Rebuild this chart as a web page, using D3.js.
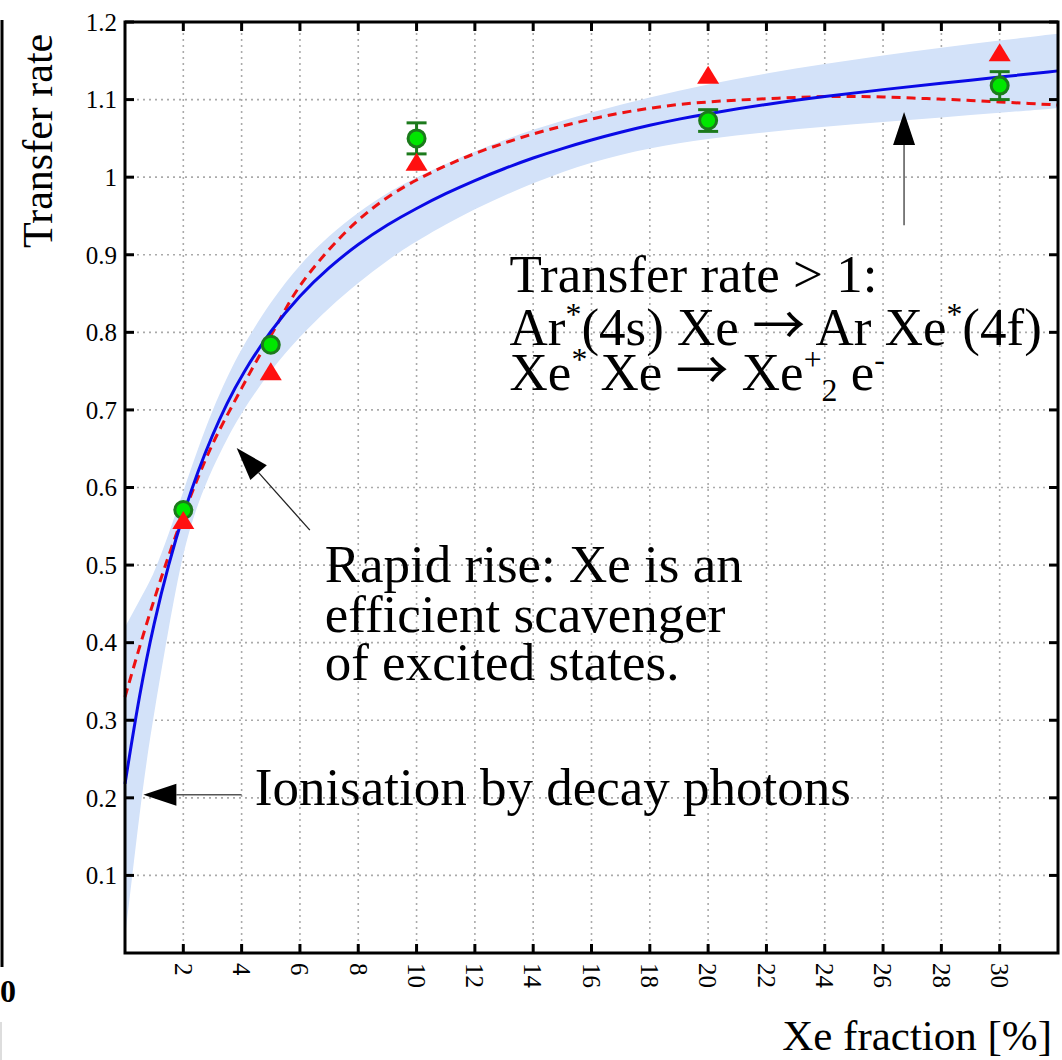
<!DOCTYPE html>
<html>
<head>
<meta charset="utf-8">
<script src="https://cdn.jsdelivr.net/npm/d3@7"></script>
<style>
  body { margin: 0; background: #fff; }
  svg { display: block; font-family: "Liberation Serif", "Times New Roman", serif; }
</style>
</head>
<body>
<script>
// Measured points (Xe fraction in %)
const xeFraction = [2, 5, 10, 20, 30];
const rateMeasured = [0.571, 0.784, 1.050, 1.073, 1.118];
const rateError = [0, 0, 0.020, 0.014, 0.018];
const rateTriangle = [0.558, 0.750, 1.020, 1.132, 1.161];

// Fit curve (solid blue)
const fitX = [0, 0.5, 1, 1.5, 2, 2.5, 3, 3.5, 4, 5, 6, 7, 8, 9, 10, 11, 12, 13, 14, 15, 16, 17, 18, 19, 20, 22, 24, 26, 28, 30, 32];
const fitY = [0.218, 0.335, 0.427, 0.502, 0.566, 0.621, 0.668, 0.709, 0.745, 0.803, 0.848, 0.884, 0.914, 0.939, 0.960, 0.979, 0.996, 1.011, 1.025, 1.037, 1.048, 1.058, 1.067, 1.075, 1.082, 1.094, 1.104, 1.113, 1.121, 1.129, 1.137];

// Model curve (red dashed)
const modelX = [0, 0.5, 1, 1.5, 2, 2.5, 3, 3.5, 4, 4.5, 5, 5.5, 6, 7, 8, 9, 10, 11, 12, 13, 14, 15, 16, 17, 18, 19, 20, 21, 22, 23, 24, 25, 26, 27, 28, 29, 30, 31, 32];
const modelY = [0.33, 0.395, 0.456, 0.513, 0.565, 0.613, 0.657, 0.693, 0.728, 0.763, 0.795, 0.83, 0.862, 0.908, 0.946, 0.975, 0.997, 1.015, 1.031, 1.044, 1.056, 1.066, 1.075, 1.083, 1.089, 1.094, 1.097, 1.0995, 1.101, 1.103, 1.104, 1.104, 1.1035, 1.102, 1.1005, 1.099, 1.097, 1.095, 1.093];

// Uncertainty band of the fit
const bandX = [0, 0.25, 0.5, 0.75, 1, 1.5, 2, 2.5, 3, 3.5, 4, 5, 6, 7, 8, 9, 10, 12, 14, 16, 18, 20, 22, 24, 26, 28, 30, 32];
const bandLo = [0.02, 0.10, 0.18, 0.25, 0.31, 0.42, 0.52, 0.58, 0.625, 0.663, 0.697, 0.752, 0.795, 0.832, 0.864, 0.893, 0.918, 0.96, 0.993, 1.02, 1.038, 1.05, 1.058, 1.065, 1.071, 1.077, 1.083, 1.089];
const bandHi = [0.42, 0.437, 0.455, 0.472, 0.49, 0.54, 0.595, 0.65, 0.70, 0.742, 0.78, 0.84, 0.888, 0.925, 0.955, 0.98, 1.0, 1.034, 1.062, 1.084, 1.103, 1.12, 1.134, 1.146, 1.157, 1.167, 1.176, 1.185];

// Axis ticks
const xTicks = [2, 4, 6, 8, 10, 12, 14, 16, 18, 20, 22, 24, 26, 28, 30];
const yTicks = [0.1, 0.2, 0.3, 0.4, 0.5, 0.6, 0.7, 0.8, 0.9, 1, 1.1, 1.2];

const width = 1062, height = 1060;
const margin = { top: 22, right: 4, bottom: 107, left: 125 };

const svg = d3.select("body").append("svg")
    .attr("width", width)
    .attr("height", height);

const x = d3.scaleLinear().domain([0, 32]).range([margin.left, width - margin.right]);
const y = d3.scaleLinear().domain([0, 1.2]).range([height - margin.bottom, margin.top]);

// Bits of the neighbouring panel that got cropped in
svg.append("line")
    .attr("x1", 2).attr("x2", 2).attr("y1", 20).attr("y2", 967)
    .attr("stroke", "#000").attr("stroke-width", 3);
svg.append("text")
    .attr("x", 0).attr("y", 1002)
    .attr("font-size", 32).attr("font-weight", 700)
    .text("0");
svg.append("line")
    .attr("x1", 1).attr("x2", 1).attr("y1", 1022).attr("y2", 1060)
    .attr("stroke", "#ddd").attr("stroke-width", 2);

// Dotted grid
const grid = svg.append("g")
    .attr("stroke", "#aaa")
    .attr("stroke-width", 1.6)
    .attr("stroke-dasharray", "2,4");

grid.selectAll(".vg")
    .data(xTicks)
    .enter().append("line")
    .attr("x1", d => x(d)).attr("x2", d => x(d))
    .attr("y1", y(0)).attr("y2", y(1.2));

grid.selectAll(".hg")
    .data(yTicks.filter(d => d < 1.2))
    .enter().append("line")
    .attr("x1", x(0)).attr("x2", x(32))
    .attr("y1", d => y(d)).attr("y2", d => y(d));

// Band
const band = bandX.map((v, i) => ({ x: v, lo: bandLo[i], hi: bandHi[i] }));
svg.append("path")
    .datum(band)
    .attr("fill", "#d3e2f9")
    .attr("d", d3.area()
        .curve(d3.curveBasis)
        .x(d => x(d.x))
        .y0(d => y(d.lo))
        .y1(d => y(d.hi)));

// Model curve (red dashed)
svg.append("path")
    .datum(modelX.map((v, i) => [v, modelY[i]]))
    .attr("fill", "none")
    .attr("stroke", "#ee1111")
    .attr("stroke-width", 3)
    .attr("stroke-dasharray", "9,6")
    .attr("d", d3.line().curve(d3.curveBasis).x(d => x(d[0])).y(d => y(d[1])));

// Fit curve (blue)
svg.append("path")
    .datum(fitX.map((v, i) => [v, fitY[i]]))
    .attr("fill", "none")
    .attr("stroke", "#0a0ae6")
    .attr("stroke-width", 3)
    .attr("d", d3.line().curve(d3.curveBasis).x(d => x(d[0])).y(d => y(d[1])));

// Measured points with error bars
const pts = xeFraction.map((v, i) => ({ x: v, y: rateMeasured[i], e: rateError[i], t: rateTriangle[i] }));
const withErr = pts.filter(d => d.e > 0);

const eb = svg.append("g")
    .attr("stroke", "#1c7a1c")
    .attr("stroke-width", 3);

eb.selectAll(".bar").data(withErr).enter().append("line")
    .attr("x1", d => x(d.x)).attr("x2", d => x(d.x))
    .attr("y1", d => y(d.y - d.e)).attr("y2", d => y(d.y + d.e));
eb.selectAll(".capTop").data(withErr).enter().append("line")
    .attr("x1", d => x(d.x) - 10).attr("x2", d => x(d.x) + 10)
    .attr("y1", d => y(d.y + d.e)).attr("y2", d => y(d.y + d.e));
eb.selectAll(".capBot").data(withErr).enter().append("line")
    .attr("x1", d => x(d.x) - 10).attr("x2", d => x(d.x) + 10)
    .attr("y1", d => y(d.y - d.e)).attr("y2", d => y(d.y - d.e));

svg.selectAll(".dot").data(pts).enter().append("circle")
    .attr("cx", d => x(d.x))
    .attr("cy", d => y(d.y))
    .attr("r", 8.5)
    .attr("fill", "#00e600")
    .attr("stroke", "#1c7a1c")
    .attr("stroke-width", 3);

// Triangles
svg.selectAll(".tri").data(pts).enter().append("path")
    .attr("transform", d => `translate(${x(d.x)},${y(d.t)})`)
    .attr("d", "M0,-9L11,9L-11,9Z")
    .attr("fill", "#ff1010");

// Frame, ticks
const frame = svg.append("g");
frame.append("rect")
    .attr("x", x(0)).attr("y", y(1.2))
    .attr("width", x(32) - x(0)).attr("height", y(0) - y(1.2))
    .attr("fill", "none").attr("stroke", "#000").attr("stroke-width", 3);

const tk = frame.append("g").attr("stroke", "#000").attr("stroke-width", 3);
tk.selectAll(".tb").data(xTicks).enter().append("line")
    .attr("x1", d => x(d)).attr("x2", d => x(d))
    .attr("y1", y(0)).attr("y2", y(0) - 9);
tk.selectAll(".tt").data(xTicks).enter().append("line")
    .attr("x1", d => x(d)).attr("x2", d => x(d))
    .attr("y1", y(1.2)).attr("y2", y(1.2) + 9);
tk.selectAll(".tl").data(yTicks).enter().append("line")
    .attr("x1", x(0)).attr("x2", x(0) + 9)
    .attr("y1", d => y(d)).attr("y2", d => y(d));
tk.selectAll(".tr").data(yTicks).enter().append("line")
    .attr("x1", x(32)).attr("x2", x(32) - 9)
    .attr("y1", d => y(d)).attr("y2", d => y(d));

// Tick labels
svg.selectAll(".yl").data(yTicks).enter().append("text")
    .attr("x", x(0) - 8)
    .attr("y", d => y(d))
    .attr("dy", "0.35em")
    .attr("text-anchor", "end")
    .attr("font-size", 25)
    .text(d => d3.format("~g")(d));

svg.selectAll(".xl").data(xTicks).enter().append("text")
    .attr("transform", d => `translate(${x(d)},${y(0) + 10}) rotate(90)`)
    .attr("dy", "0.35em")
    .attr("font-size", 25)
    .text(d => d);

// Axis titles
svg.append("text")
    .attr("x", 1052).attr("y", 1050)
    .attr("text-anchor", "end")
    .attr("font-size", 43)
    .text("Xe fraction [%]");

svg.append("text")
    .attr("transform", "translate(52,248) rotate(-90)")
    .attr("font-size", 42)
    .text("Transfer rate");

// Annotations: one text per line, super/subscripts as tspans
function richText(px, py, parts, size) {
    const t = svg.append("text")
        .attr("x", px).attr("y", py)
        .attr("font-size", size);
    let shift = 0;
    parts.forEach(p => {
        const target = p.s === "sup" ? -0.38 * size : p.s === "sub" ? 0.22 * size : 0;
        const ts = t.append("tspan")
            .attr("dy", target - shift)
            .attr("font-size", p.s ? size * 0.6 : size)
            .text(p.t);
        if (p.f) ts.attr("font-family", p.f);
        shift = target;
    });
    return t;
}

const fs = 53;
const arrowGlyph = { t: "\u2192", f: "Noto Sans CJK JP" };
richText(x(13.19), y(0.852), [{ t: "Transfer rate > 1:" }], fs);
richText(x(13.19), y(0.784), [
    { t: "Ar" }, { t: "*", s: "sup" }, { t: "(4s) Xe " }, arrowGlyph, { t: " Ar Xe" }, { t: "*", s: "sup" }, { t: "(4f)" }
], fs);
richText(x(13.19), y(0.726), [
    { t: "Xe" }, { t: "*", s: "sup" }, { t: " Xe " }, arrowGlyph, { t: " Xe" }, { t: "+", s: "sup" }, { t: "2", s: "sub" }, { t: " e" }, { t: "-", s: "sup" }
], fs);

richText(x(6.85), y(0.478), [{ t: "Rapid rise: Xe is an" }], fs);
richText(x(6.85), y(0.414), [{ t: "efficient scavenger" }], fs);
richText(x(6.85), y(0.352), [{ t: "of excited states." }], fs);

richText(x(4.45), y(0.191), [{ t: "Ionisation by decay photons" }], fs);

// Arrows
function arrow(x0, y0, x1, y1, color, lw) {
    const X0 = x(x0), Y0 = y(y0), X1 = x(x1), Y1 = y(y1);
    const ang = Math.atan2(Y1 - Y0, X1 - X0);
    const len = 33, hw = 11;
    const bx = X1 - len * Math.cos(ang), by = Y1 - len * Math.sin(ang);
    svg.append("line")
        .attr("x1", X0).attr("y1", Y0).attr("x2", bx).attr("y2", by)
        .attr("stroke", color).attr("stroke-width", lw);
    svg.append("path")
        .attr("d", `M${X1},${Y1}L${bx - hw * Math.sin(ang)},${by + hw * Math.cos(ang)}L${bx + hw * Math.sin(ang)},${by - hw * Math.cos(ang)}Z`)
        .attr("fill", "#000");
}

arrow(4.0, 0.204, 0.63, 0.204, "#555", 1.5);
arrow(6.34, 0.545, 3.83, 0.651, "#222", 1.3);
arrow(26.72, 0.938, 26.72, 1.084, "#555", 1.5);
</script>
</body>
</html>
